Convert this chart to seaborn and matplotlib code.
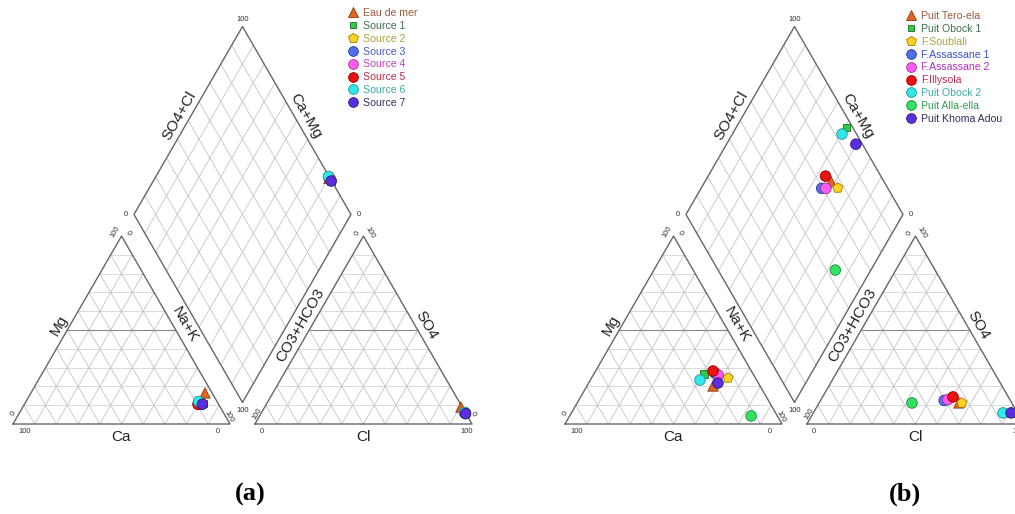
import numpy as np
import pandas as pd
import seaborn as sns
import matplotlib.pyplot as plt
from matplotlib.lines import Line2D

sns.set_theme(style="white")
plt.rcParams['font.family'] = ['Liberation Sans', 'DejaVu Sans']

# ---- data (meq %) ----
names_a = ["Eau de mer", "Source 1", "Source 2", "Source 3", "Source 4",
           "Source 5", "Source 6", "Source 7"]
ca_a = [3.3, 7.0, 7.2, 8.0, 9.0, 9.5, 8.5, 7.5]
mg_a = [16.5, 11.0, 11.5, 11.0, 10.5, 10.5, 12.0, 10.5]
cl_a = [90.4, 94.0, 94.0, 93.8, 93.6, 94.0, 93.5, 94.3]
so4_a = [9.0, 5.5, 5.8, 6.0, 6.0, 5.8, 6.2, 5.5]

names_b = ["Puit Tero-ela", "Puit Obock 1", "F.Soublali", "F.Assassane 1",
           "F.Assassane 2", "F.Illysola", "Puit Obock 2", "Puit Alla-ella",
           "Puit Khoma Adou"]
ca_b = [21.7, 22.6, 12.6, 17.3, 16.4, 17.7, 26.1, 12.1, 18.6]
mg_b = [20.2, 26.6, 24.5, 27.1, 26.1, 28.2, 23.4, 4.3, 21.8]
cl_b = [64.4, 91.0, 65.8, 57.0, 58.4, 60.1, 87.4, 42.8, 91.1]
so4_b = [11.2, 6.0, 11.2, 12.5, 13.0, 14.4, 5.9, 11.2, 5.9]

fill_a = ["#e2641e", "#2ecc40", "#ffd21f", "#4f6ff0", "#ff5cf0", "#ee1111", "#33e8e8", "#5a2ee0"]
edge_a = ["#8b3a10", "#1a6b2a", "#a07c00", "#2a3a90", "#a03090", "#8a0000", "#1f9090", "#2a1a70"]
text_a = ["#9a5a3a", "#3d7050", "#b0a040", "#4a5cc0", "#c040c0", "#b03050", "#40a8a8", "#303060"]
mark_a = ["^", "s", "p", "o", "o", "o", "o", "o"]

fill_b = ["#e2641e", "#2ecc40", "#ffd21f", "#4f6ff0", "#ff5cf0", "#ee1111", "#33e8e8", "#33e060", "#5a2ee0"]
edge_b = ["#8b3a10", "#1a6b2a", "#a07c00", "#2a3a90", "#a03090", "#8a0000", "#1f9090", "#1a8a3a", "#2a1a70"]
text_b = ["#9a5a3a", "#3d7050", "#b0a040", "#3a50c8", "#b030c0", "#b03050", "#40a8a8", "#30a050", "#303060"]
mark_b = ["^", "s", "p", "o", "o", "o", "o", "o", "o"]

H = np.sqrt(3) / 2
GAP = 11.5
OX_AN = 100 + GAP
BX, BY = 100 + GAP / 2, GAP * H
K = 2.17  # px per unit
W, HT = 1015, 514
GRID = "#c4c4c4"
EDGE = "#666666"
TXT = "#333333"


def tri_xy(right, top, ox=0.0):
    right, top = np.asarray(right, float), np.asarray(top, float)
    return ox + right + top / 2, top * H


def dia_xy(camg, so4cl):
    camg, so4cl = np.asarray(camg, float), np.asarray(so4cl, float)
    return BX + 0.5 * (so4cl - camg), BY + H * (so4cl + camg)


def line(ax, p, q, **kw):
    ax.plot([p[0], q[0]], [p[1], q[1]], solid_capstyle="butt", **kw)


def draw_frame(ax):
    for ox in (0.0, OX_AN):
        for v in range(10, 100, 10):
            if v == 50:
                line(ax, tri_xy(0, v, ox), tri_xy(50, v, ox), color="#888888", lw=0.8)
            else:
                line(ax, tri_xy(0, v, ox), tri_xy(100 - v, v, ox), color="#aaaaaa",
                     lw=0.6, ls=(0, (1.2, 1.2)))
            line(ax, tri_xy(v, 0, ox), tri_xy(v, 100 - v, ox), color=GRID, lw=0.6)
            line(ax, tri_xy(100 - v, 0, ox), tri_xy(0, 100 - v, ox), color=GRID, lw=0.6)
        xs, ys = tri_xy([0, 100, 0, 0], [0, 0, 100, 0], ox)
        ax.plot(xs, ys, color=EDGE, lw=1.0)
    for v in range(10, 100, 10):
        line(ax, dia_xy(v, 0), dia_xy(v, 100), color=GRID, lw=0.6)
        line(ax, dia_xy(0, v), dia_xy(100, v), color=GRID, lw=0.6)
    xs, ys = dia_xy([0, 100, 100, 0, 0], [0, 0, 100, 100, 0])
    ax.plot(xs, ys, color=EDGE, lw=1.0)

    # axis titles
    d = 4.6
    nl, nr = np.array([-H, 0.5]), np.array([H, 0.5])
    titles = [
        ("SO4+Cl", (np.array(dia_xy(50, 100)) + np.array(dia_xy(100, 100))) / 2 * 0
         + np.array(dia_xy(100, 50)) + nl * d, 60),
        ("Ca+Mg", np.array(dia_xy(50, 100)) + nr * d, -60),
        ("Mg", np.array(tri_xy(0, 50)) + nl * d, 60),
        ("Na+K", np.array(tri_xy(50, 50)) + nr * d, -60),
        ("CO3+HCO3", np.array(tri_xy(0, 50, OX_AN)) + nl * d, 60),
        ("SO4", np.array(tri_xy(50, 50, OX_AN)) + nr * d, -60),
        ("Ca", np.array([50, -5.8]), 0),
        ("Cl", np.array([OX_AN + 50, -5.8]), 0),
    ]
    for s, (x, y), r in titles:
        ax.text(x, y, s, rotation=r, rotation_mode="anchor", ha="center",
                va="center", fontsize=11, color="#222222")

    # tick labels
    fs = 5.5
    ticks = [
        ("100", 5.5, -3.4, 0), ("0", 94.5, -3.4, 0),
        ("0", 0.0, 5.0, 60), ("100", 47.3, 88.6, 60),
        ("0", 53.0, 87.8, -60), ("100", 99.5, 3.4, -60),
        ("0", OX_AN + 3.2, -3.4, 0), ("100", OX_AN + 97.5, -3.4, 0),
        ("100", OX_AN + 1.2, 4.6, 60), ("0", OX_AN + 47.2, 87.8, 60),
        ("100", OX_AN + 52.9, 88.4, -60), ("0", OX_AN + 100.3, 4.6, -60),
        ("100", BX, 100 * 2 * H + BY + 3.4, 0), ("0", BX - 50 - 3.6, BY + 100 * H, 0),
        ("0", BX + 50 + 3.6, BY + 100 * H, 0), ("100", BX, BY - 3.6, 0),
    ]
    for s, x, y, r in ticks:
        ax.text(x, y, s, rotation=r, ha="center", va="center", fontsize=fs,
                color=TXT)


def plot_samples(ax, names, ca, mg, cl, so4, fills, edges, marks):
    ca, mg, cl, so4 = (np.asarray(v, float) for v in (ca, mg, cl, so4))
    na = 100 - ca - mg
    cx, cy = tri_xy(na, mg)
    axx, ayy = tri_xy(cl, so4, OX_AN)
    dx, dy = dia_xy(ca + mg, cl + so4)
    frames = []
    for x, y in ((cx, cy), (axx, ayy), (dx, dy)):
        frames.append(pd.DataFrame({"x": x, "y": y, "name": names}))
    df = pd.concat(frames, ignore_index=True)
    sizes = {n: (30 if m == "s" else 55 if m == "^" else 58) for n, m in zip(names, marks)}
    sns.scatterplot(data=df, x="x", y="y", hue="name", style="name", size="name",
                    hue_order=names, style_order=names, size_order=names,
                    palette=dict(zip(names, fills)), markers=dict(zip(names, marks)),
                    sizes=sizes, linewidth=0.6, legend=False, ax=ax, zorder=5)
    emap = dict(zip(names, edges))
    ax.collections[-1].set_edgecolor([emap[n] for n in df["name"]])


def add_legend(ax, names, fills, edges, marks, texts, x_px, y_px):
    handles = [Line2D([], [], ls="none", marker=m, markersize=(5 if m == "s" else 7),
                      markerfacecolor=f, markeredgecolor=e, markeredgewidth=0.6)
               for m, f, e in zip(marks, fills, edges)]
    ax.legend(handles, names, loc="upper left", bbox_to_anchor=(x_px / W, 1 - y_px / HT),
              bbox_transform=ax.figure.transFigure, frameon=False, fontsize=7.6,
              labelcolor=texts, handlelength=0.9, handletextpad=0.5,
              labelspacing=0.27, borderpad=0, borderaxespad=0)


fig = plt.figure(figsize=(W / 100, HT / 100), dpi=100)
panels = [
    (13, names_a, ca_a, mg_a, cl_a, so4_a, fill_a, edge_a, mark_a, text_a, 348, 8),
    (565, names_b, ca_b, mg_b, cl_b, so4_b, fill_b, edge_b, mark_b, text_b, 906, 11),
]
for x0, names, ca, mg, cl, so4, fills, edges, marks, texts, lx, ly in panels:
    ax = fig.add_axes([0, 0, 1, 1])
    ax.patch.set_alpha(0)
    ax.set_xlim(-x0 / K, (W - x0) / K)
    ax.set_ylim(-(HT - 424) / K, 424 / K)
    ax.set_axis_off()
    draw_frame(ax)
    plot_samples(ax, names, ca, mg, cl, so4, fills, edges, marks)
    add_legend(ax, names, fills, edges, marks, texts, lx, ly)

for s, x in (("(a)", 250), ("(b)", 905)):
    fig.text(x / W, 1 - 494 / HT, s, ha="center", va="center", fontsize=19,
             fontweight="bold", family="Liberation Serif", color="black")

fig.savefig("out.png", dpi=100)
